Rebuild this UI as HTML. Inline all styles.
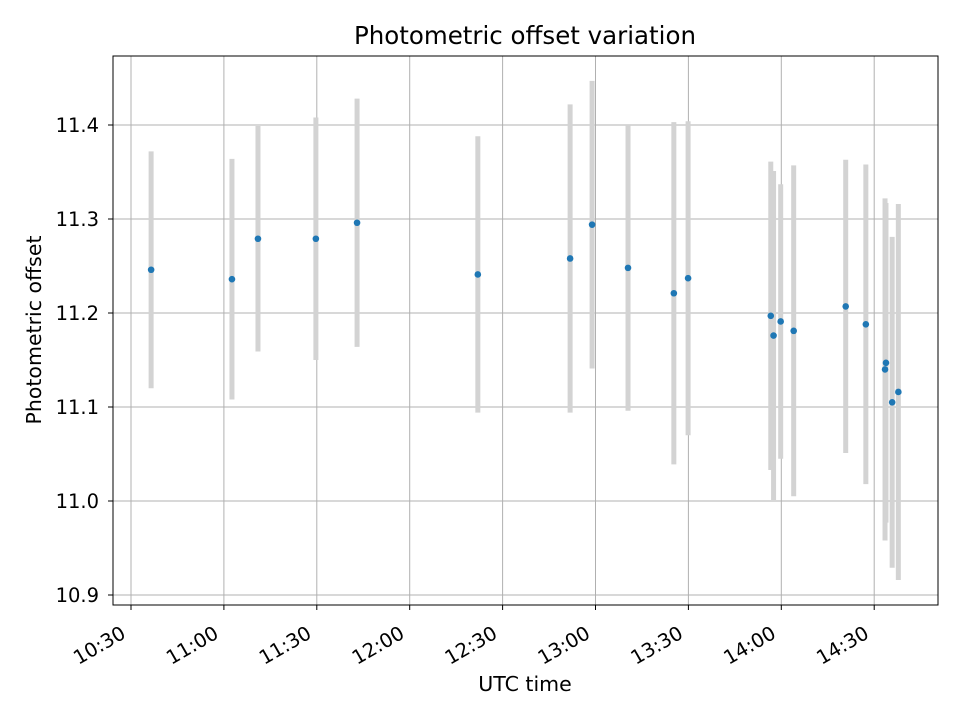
<!DOCTYPE html>
<html><head><meta charset="utf-8"><style>
body{margin:0;background:#fff}
svg{font-family:"DejaVu Sans","Liberation Sans",sans-serif}
</style></head><body>
<svg id="c" width="960" height="720" xmlns="http://www.w3.org/2000/svg">
<rect width="960" height="720" fill="#fff"/>
<text x="525" y="44" font-size="24.5" text-anchor="middle">Photometric offset variation</text>
<text x="525" y="691" font-size="20.5" text-anchor="middle">UTC time</text>
<text transform="translate(41,330) rotate(-90)" font-size="20.5" text-anchor="middle">Photometric offset</text>
<g id="grid"></g><g id="bars"></g><g id="pts"></g><g id="ticks"></g>
<rect x="113" y="56" width="825" height="549" fill="none" stroke="#000" stroke-width="1"/>
</svg>
<script>
// minutes after 10:30 UTC
const times=[6.5,32.6,41,59.7,73,112,141.8,148.9,160.5,175.3,179.9,206.6,207.5,209.8,214,230.8,237.3,243.5,243.8,245.8,247.8];
const values=[11.246,11.236,11.279,11.279,11.296,11.241,11.258,11.294,11.248,11.221,11.237,11.197,11.176,11.191,11.181,11.207,11.188,11.140,11.147,11.105,11.116];
const errors=[0.126,0.128,0.12,0.129,0.132,0.147,0.164,0.153,0.152,0.182,0.167,0.164,0.175,0.146,0.176,0.156,0.17,0.182,0.17,0.176,0.2];
const xTickMin=[0,30,60,90,120,150,180,210,240];
const xTickLabels=["10:30","11:00","11:30","12:00","12:30","13:00","13:30","14:00","14:30"];
const yTicks=[10.9,11.0,11.1,11.2,11.3,11.4];
const ns="http://www.w3.org/2000/svg";
const X=t=>131+t*(92.9/30);
const Y=v=>125+(11.4-v)*940;
function mk(p,tag,a){const e=document.createElementNS(ns,tag);for(const k in a)e.setAttribute(k,a[k]);document.getElementById(p).appendChild(e);return e;}
xTickMin.forEach((t,i)=>{
 const x=X(t);
 const g=mk('grid','line',{x1:x,x2:x,y1:56,y2:605,stroke:'#b0b0b0','stroke-width':1});
 
 
 const tk=mk('ticks','line',{x1:x,x2:x,y1:605,y2:610,stroke:'#000'});
 
 
 const tx=mk('ticks','text',{'font-size':19.5,'text-anchor':'end',transform:`translate(${x-4},${637}) rotate(-30)`});
 tx.textContent=xTickLabels[i];
 
 
});
yTicks.forEach(v=>{
 const y=Y(v);
 const g=mk('grid','line',{x1:113,x2:938,y1:y,y2:y,stroke:'#b0b0b0','stroke-width':1});
 
 
 const tk=mk('ticks','line',{x1:108,x2:113,y1:y,y2:y,stroke:'#000'});
 
 
 const tx=mk('ticks','text',{x:99,y:y+7,'font-size':19.5,'text-anchor':'end'});
 tx.textContent=v.toFixed(1);
 
 
});
times.forEach((t,i)=>{
 const x=X(t);
 const b=mk('bars','line',{x1:x,x2:x,y1:Y(values[i]+errors[i]),y2:Y(values[i]-errors[i]),stroke:'#d3d3d3','stroke-width':5});
 
 
 const p=mk('pts','circle',{cx:x,cy:Y(values[i]),r:3.3,fill:'#1f77b4'});
 
 
});
</script>
</body></html>
